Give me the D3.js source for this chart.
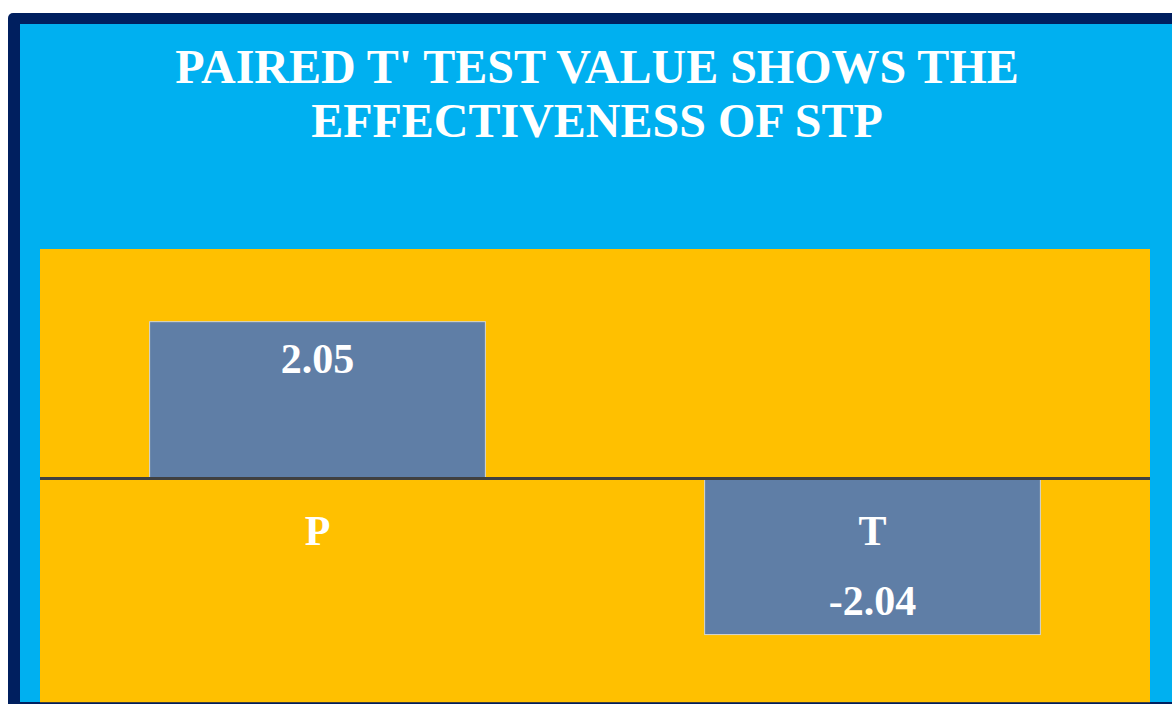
<!DOCTYPE html>
<html>
<head>
<meta charset="utf-8">
<script src="https://cdnjs.cloudflare.com/ajax/libs/d3/7.8.5/d3.min.js"></script>
<style>
  html, body { margin: 0; padding: 0; background: #fff; overflow: hidden; }
</style>
</head>
<body>
<div id="chart"></div>
<script>
// data
const categories = ["P", "T"];
const values = [2.05, -2.04];
const titleLines = ["PAIRED T' TEST VALUE SHOWS THE", "EFFECTIVENESS OF STP"];

const W = 1172, H = 704;
const font = "'Liberation Serif', 'Times New Roman', serif";

const svg = d3.select("#chart").append("svg")
    .attr("width", W)
    .attr("height", H);

// slide frame
svg.append("rect")
    .attr("x", 8).attr("y", 13)
    .attr("width", W).attr("height", H)
    .attr("rx", 5)
    .attr("fill", "#001F5F");

svg.append("rect")
    .attr("x", 20).attr("y", 24)
    .attr("width", W - 20).attr("height", 702 - 24)
    .attr("fill", "#00B0F0");

// title
svg.append("text")
    .attr("x", 597)
    .attr("text-anchor", "middle")
    .attr("fill", "#fff")
    .style("font-family", font)
    .style("font-weight", "bold")
    .style("font-size", "48px")
    .selectAll("tspan")
    .data(titleLines)
    .enter().append("tspan")
    .attr("x", 597)
    .attr("y", (d, i) => 83 + i * 54)
    .text(d => d);

// plot area
const plot = { left: 40, right: 1150, top: 249, bottom: 708 };

svg.append("rect")
    .attr("x", plot.left).attr("y", plot.top)
    .attr("width", plot.right - plot.left)
    .attr("height", 702 - plot.top)
    .attr("fill", "#FFC000");

svg.append("line")
    .attr("x1", plot.left).attr("x2", plot.right)
    .attr("y1", 702.5).attr("y2", 702.5)
    .attr("stroke", "#404040")
    .attr("stroke-width", 1);

const x = d3.scaleBand()
    .domain(categories)
    .range([plot.left, plot.right])
    .paddingInner(0.395)
    .paddingOuter(0.1975);

const y = d3.scaleLinear()
    .domain([-3, 3])
    .range([plot.bottom, plot.top]);

const data = categories.map((c, i) => ({ cat: c, value: values[i] }));

// bars
svg.selectAll(".bar")
    .data(data)
    .enter().append("rect")
    .attr("class", "bar")
    .attr("x", d => x(d.cat))
    .attr("y", d => y(Math.max(0, d.value)))
    .attr("width", x.bandwidth())
    .attr("height", d => Math.abs(y(d.value) - y(0)))
    .attr("fill", "#5F7EA6")
    .attr("stroke", "#D6D6D0")
    .attr("stroke-width", 1);

// zero axis
svg.append("line")
    .attr("x1", plot.left).attr("x2", plot.right)
    .attr("y1", y(0)).attr("y2", y(0))
    .attr("stroke", "#404040")
    .attr("stroke-width", 3);

// category labels
svg.selectAll(".cat")
    .data(data)
    .enter().append("text")
    .attr("class", "cat")
    .attr("x", d => x(d.cat) + x.bandwidth() / 2)
    .attr("y", y(0) + 66)
    .attr("text-anchor", "middle")
    .attr("fill", "#fff")
    .style("font-family", font)
    .style("font-weight", "bold")
    .style("font-size", "42px")
    .text(d => d.cat);

// value labels
svg.selectAll(".val")
    .data(data)
    .enter().append("text")
    .attr("class", "val")
    .attr("x", d => x(d.cat) + x.bandwidth() / 2)
    .attr("y", d => d.value >= 0 ? y(d.value) + 51 : y(d.value) - 20)
    .attr("text-anchor", "middle")
    .attr("fill", "#fff")
    .style("font-family", font)
    .style("font-weight", "bold")
    .style("font-size", "42px")
    .text(d => d3.format(".2f")(d.value).replace("−", "-"));
</script>
</body>
</html>
